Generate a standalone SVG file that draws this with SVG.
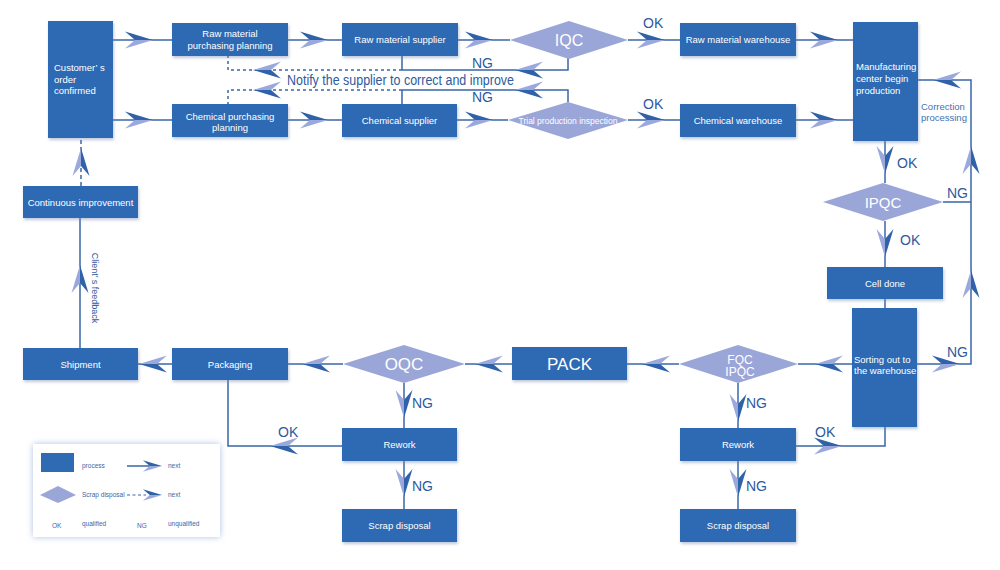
<svg xmlns="http://www.w3.org/2000/svg" xmlns:xlink="http://www.w3.org/1999/xlink" width="1000" height="570" viewBox="0 0 1000 570">
<style>
.box{fill:#2f6bb3;filter:url(#sh)}
.dia{fill:#9ba6d8}
.bt{font-family:"Liberation Sans",Arial,sans-serif;font-size:9.5px;fill:#ffffff;text-anchor:middle}
.bl{font-family:"Liberation Sans",Arial,sans-serif;font-size:9.5px;fill:#ffffff}
.dt{font-family:"Liberation Sans",Arial,sans-serif;fill:#ffffff;text-anchor:middle}
.lb{font-family:"Liberation Sans",Arial,sans-serif;font-size:14px;fill:#2d5a9e}
.ln{fill:none;stroke:#3a67a8;stroke-width:1.5}
.dot{fill:none;stroke:#3a67a8;stroke-width:1.5;stroke-dasharray:3 3}
.lg{font-family:"Liberation Sans",Arial,sans-serif;font-size:6.5px;fill:#3d65a5}
</style>
<defs>
<filter id="sh" x="-10%" y="-10%" width="130%" height="140%">
<feDropShadow dx="1" dy="2" stdDeviation="1.5" flood-color="#6f86b0" flood-opacity="0.45"/>
</filter>
<filter id="glow" x="-10%" y="-15%" width="120%" height="130%">
<feDropShadow dx="0" dy="0" stdDeviation="3" flood-color="#8aa6d8" flood-opacity="0.7"/>
</filter>
<g id="ah">
<path d="M0,0 L-28,-8.5 L-18,0 Z" fill="#2f62a8"/>
<path d="M0,0 L-18,0 L-28,8.5 Z" fill="#9aa8dc"/>
</g>
</defs>
<rect width="1000" height="570" fill="#ffffff"/>

<g id="connectors">
<path class="ln" d="M113,40 H172"/><use xlink:href="#ah" transform="translate(153,40)"/>
<path class="ln" d="M113,120 H172"/><use xlink:href="#ah" transform="translate(153,120)"/>
<path class="ln" d="M288,40 H342"/><use xlink:href="#ah" transform="translate(328,40)"/>
<path class="ln" d="M288,120 H342"/><use xlink:href="#ah" transform="translate(328,120)"/>
<path class="ln" d="M458,40 H510"/><use xlink:href="#ah" transform="translate(493,40)"/>
<path class="ln" d="M457,120 H508"/><use xlink:href="#ah" transform="translate(493,120)"/>
<path class="ln" d="M628,40 H680"/><use xlink:href="#ah" transform="translate(665,40)"/>
<path class="ln" d="M628,120 H680"/><use xlink:href="#ah" transform="translate(665,120)"/>
<path class="ln" d="M796,40 H853"/><use xlink:href="#ah" transform="translate(838,40)"/>
<path class="ln" d="M796,120 H853"/><use xlink:href="#ah" transform="translate(838,120)"/>
<path class="ln" d="M568,58 V70 H402 M402,56 V70"/>
<path class="dot" d="M402,70 H228 V56"/>
<use xlink:href="#ah" transform="translate(515,70) rotate(180)"/>
<use xlink:href="#ah" transform="translate(253,70) rotate(180)"/>
<path class="ln" d="M568,102 V90 H402 M402,90 V104"/>
<path class="dot" d="M402,90 H228 V104"/>
<use xlink:href="#ah" transform="translate(515,90) rotate(180)"/>
<use xlink:href="#ah" transform="translate(253,90) rotate(180)"/>
<path class="ln" d="M885,141 V183"/><use xlink:href="#ah" transform="translate(885,174) rotate(90)"/>
<path class="ln" d="M885,221 V267"/><use xlink:href="#ah" transform="translate(885,257) rotate(90)"/>
<path class="ln" d="M885,299 V308"/>
<path class="ln" d="M943,202 H971 M917,364 H971 V80 H918"/>
<use xlink:href="#ah" transform="translate(971,146) scale(-1,1) rotate(-90)"/>
<use xlink:href="#ah" transform="translate(971,270) scale(-1,1) rotate(-90)"/>
<use xlink:href="#ah" transform="translate(933,80) rotate(180)"/>
<use xlink:href="#ah" transform="translate(960,364)"/>
<path class="ln" d="M852,364 H798"/><use xlink:href="#ah" transform="translate(815,364) rotate(180)"/>
<path class="ln" d="M679,364 H627"/><use xlink:href="#ah" transform="translate(642,364) rotate(180)"/>
<path class="ln" d="M512,364 H465"/><use xlink:href="#ah" transform="translate(475,364) rotate(180)"/>
<path class="ln" d="M343,364 H288"/><use xlink:href="#ah" transform="translate(302,364) rotate(180)"/>
<path class="ln" d="M172,364 H138"/><use xlink:href="#ah" transform="translate(139,364) rotate(180)"/>
<path class="ln" d="M80,348 V218"/><use xlink:href="#ah" transform="translate(80,265) scale(-1,1) rotate(-90)"/>
<path class="ln" d="M81,186 V138" stroke-dasharray="4 3"/><use xlink:href="#ah" transform="translate(81,148) scale(-1,1) rotate(-90)"/>
<path class="ln" d="M404,383 V428"/><use xlink:href="#ah" transform="translate(404,418) rotate(90)"/>
<path class="ln" d="M404,461 V509"/><use xlink:href="#ah" transform="translate(404,497) rotate(90)"/>
<path class="ln" d="M342,446 H228 V380"/><use xlink:href="#ah" transform="translate(270,446) rotate(180)"/>
<path class="ln" d="M738,383 V428"/><use xlink:href="#ah" transform="translate(738,422) rotate(90)"/>
<path class="ln" d="M738,461 V509"/><use xlink:href="#ah" transform="translate(738,497) rotate(90)"/>
<path class="ln" d="M796,446 H885 V427"/><use xlink:href="#ah" transform="translate(842,446)"/>
</g>

<g id="labels">
<text class="lb" x="643" y="28">OK</text>
<text class="lb" x="643" y="109">OK</text>
<text class="lb" x="472" y="68">NG</text>
<text class="lb" x="472" y="102">NG</text>
<text class="lb" x="287" y="85" font-size="12.5" textLength="227" lengthAdjust="spacingAndGlyphs">Notify the supplier to correct and improve</text>
<text class="lb" x="897" y="168">OK</text>
<text class="lb" x="947" y="198">NG</text>
<text class="lb" x="900" y="245">OK</text>
<text class="lb" x="947" y="357">NG</text>
<text class="lb" x="412" y="408">NG</text>
<text class="lb" x="412" y="491">NG</text>
<text class="lb" x="746" y="408">NG</text>
<text class="lb" x="746" y="491">NG</text>
<text class="lb" x="278" y="437">OK</text>
<text class="lb" x="815" y="437">OK</text>
<text x="921" y="109.5" font-family="Liberation Sans,Arial,sans-serif" font-size="9.5" fill="#3a73b8">Correction</text>
<text x="921" y="120.5" font-family="Liberation Sans,Arial,sans-serif" font-size="9.5" fill="#3a73b8">processing</text>
<text transform="translate(92,288) rotate(90)" text-anchor="middle" font-family="Liberation Sans,Arial,sans-serif" font-size="9" fill="#2d5a9e">Client’ s feedback</text>
</g>

<g id="customer"><rect class="box" x="48" y="21" width="65" height="117"/>
<text class="bl" x="54" y="70.5">Customer’ s</text><text class="bl" x="54" y="82.5">order</text><text class="bl" x="54" y="94">confirmed</text></g>
<g id="raw-planning"><rect class="box" x="172" y="23" width="116" height="33"/>
<text class="bt" x="230" y="37">Raw material</text><text class="bt" x="230" y="49">purchasing planning</text></g>
<g id="chem-planning"><rect class="box" x="172" y="104" width="116" height="33"/>
<text class="bt" x="230" y="119.5">Chemical purchasing</text><text class="bt" x="230" y="131">planning</text></g>
<g id="raw-supplier"><rect class="box" x="342" y="23" width="116" height="33"/>
<text class="bt" x="400" y="43">Raw material supplier</text></g>
<g id="chem-supplier"><rect class="box" x="342" y="104" width="115" height="33"/>
<text class="bt" x="399.5" y="124">Chemical supplier</text></g>
<g id="iqc"><polygon class="dia" points="510,40 569,21 628,40 569,59"/>
<text class="dt" x="569" y="46" font-size="16">IQC</text></g>
<g id="trial"><polygon class="dia" points="508,120 568,102 628,120 568,139"/>
<text class="dt" x="568" y="123.5" font-size="8.5">Trial production inspection</text></g>
<g id="raw-warehouse"><rect class="box" x="680" y="23" width="116" height="33"/>
<text class="bt" x="738" y="43">Raw material warehouse</text></g>
<g id="chem-warehouse"><rect class="box" x="680" y="104" width="116" height="33"/>
<text class="bt" x="738" y="124">Chemical warehouse</text></g>
<g id="manufacturing"><rect class="box" x="853" y="22" width="65" height="119"/>
<text class="bl" x="856" y="70">Manufacturing</text><text class="bl" x="856" y="82">center begin</text><text class="bl" x="856" y="93.5">production</text></g>
<g id="ipqc"><polygon class="dia" points="823,202 883,183 943,202 883,221"/>
<text class="dt" x="883" y="207.5" font-size="15">IPQC</text></g>
<g id="cell-done"><rect class="box" x="827" y="267" width="116" height="32"/>
<text class="bt" x="885" y="286.5">Cell done</text></g>
<g id="sorting"><rect class="box" x="852" y="308" width="65" height="119"/>
<text class="bl" x="854" y="362.5">Sorting out to</text><text class="bl" x="854" y="374">the warehouse</text></g>
<g id="fqc"><polygon class="dia" points="679,364 738,345 798,364 738,383"/>
<text class="dt" x="740" y="363.5" font-size="12">FQC</text><text class="dt" x="740" y="375.5" font-size="12">IPQC</text></g>
<g id="pack"><rect class="box" x="512" y="347" width="115" height="33"/>
<text class="dt" x="569.5" y="369.5" font-size="17">PACK</text></g>
<g id="oqc"><polygon class="dia" points="343,364 404,345 465,364 404,383"/>
<text class="dt" x="404" y="370" font-size="17">OQC</text></g>
<g id="packaging"><rect class="box" x="172" y="348" width="116" height="32"/>
<text class="bt" x="230" y="367.5">Packaging</text></g>
<g id="shipment"><rect class="box" x="23" y="348" width="115" height="32"/>
<text class="bt" x="80.5" y="367.5">Shipment</text></g>
<g id="continuous"><rect class="box" x="23" y="186" width="115" height="32"/>
<text class="bt" x="80.5" y="205.5">Continuous improvement</text></g>
<g id="rework-left"><rect class="box" x="342" y="428" width="115" height="33"/>
<text class="bt" x="399.5" y="448">Rework</text></g>
<g id="scrap-left"><rect class="box" x="342" y="509" width="115" height="33"/>
<text class="bt" x="399.5" y="529">Scrap disposal</text></g>
<g id="rework-right"><rect class="box" x="680" y="428" width="116" height="33"/>
<text class="bt" x="738" y="448">Rework</text></g>
<g id="scrap-right"><rect class="box" x="680" y="509" width="116" height="33"/>
<text class="bt" x="738" y="529">Scrap disposal</text></g>

<g id="legend">
<rect x="33" y="444" width="187" height="93" fill="#ffffff" filter="url(#glow)"/>
<rect x="41" y="453" width="33" height="19" fill="#2f6bb3"/>
<text class="lg" x="82" y="468">process</text>
<path class="ln" d="M127,466 H150" stroke-width="1"/>
<use xlink:href="#ah" transform="translate(162,466) scale(0.68)"/>
<text class="lg" x="168" y="468">next</text>
<polygon class="dia" points="40,495 58,486 76,495 58,503"/>
<text class="lg" x="82" y="497" fill="#4a8ccc">Scrap disposal</text>
<path d="M127,495 H146" fill="none" stroke="#3a67a8" stroke-width="1" stroke-dasharray="3 2.5"/>
<use xlink:href="#ah" transform="translate(162,495) scale(0.68)"/>
<text class="lg" x="168" y="497">next</text>
<text class="lg" x="52" y="528" font-size="8.5">OK</text>
<text class="lg" x="82" y="526">qualified</text>
<text class="lg" x="137" y="528" font-size="8.5">NG</text>
<text class="lg" x="168" y="526">unqualified</text>
</g>
</svg>
